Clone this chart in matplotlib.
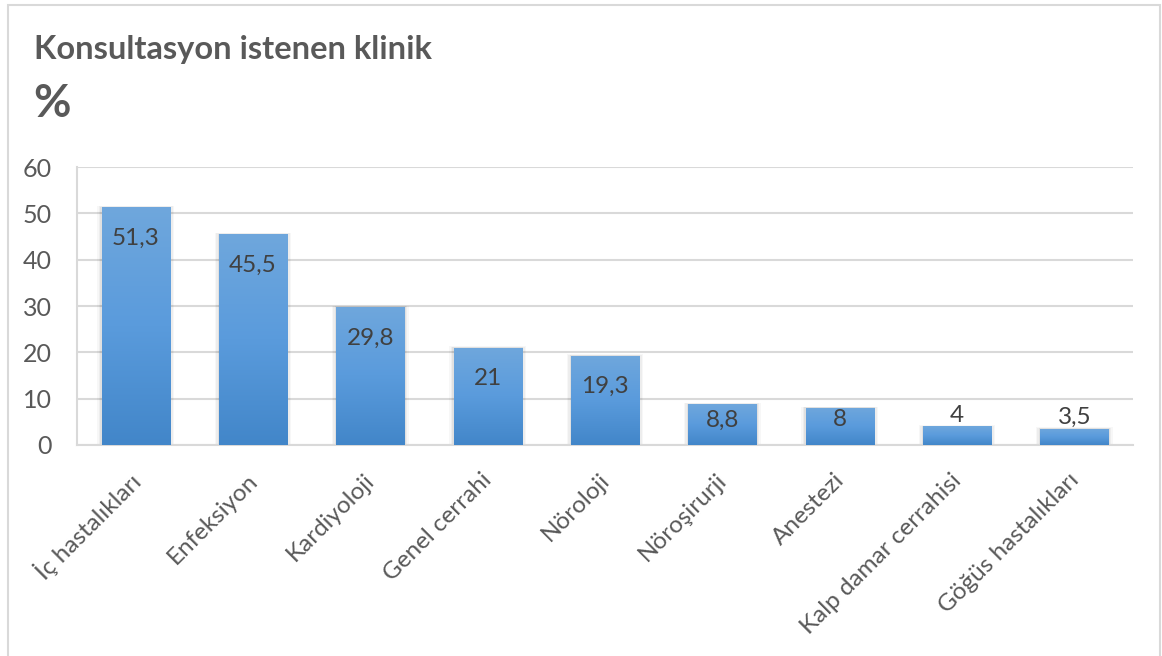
import numpy as np
import matplotlib
matplotlib.use("Agg")
import matplotlib.pyplot as plt
from matplotlib.patches import Rectangle
from matplotlib.colors import LinearSegmentedColormap
import matplotlib.transforms as mtransforms

plt.rcParams['font.family'] = ['Lato', 'DejaVu Sans']

# Data
categories = ["İç hastalıkları", "Enfeksiyon", "Kardiyoloji", "Genel cerrahi",
              "Nöroloji", "Nöroşirurji", "Anestezi", "Kalp damar cerrahisi",
              "Göğüs hastalıkları"]
values = [51.3, 45.5, 29.8, 21, 19.3, 8.8, 8, 4, 3.5]
value_labels = ["51,3", "45,5", "29,8", "21", "19,3", "8,8", "8", "4", "3,5"]
yticks = [0, 10, 20, 30, 40, 50, 60]

W, H = 1162, 656
fig = plt.figure(figsize=(W / 100, H / 100), dpi=100)
fig.patch.set_facecolor("white")

# chart frame
frame = Rectangle((8 / W, -0.1), (1160 - 8) / W, 1.1 - 5 / H, transform=fig.transFigure,
                  fill=False, edgecolor="#d9d9d9", linewidth=1.5)
fig.add_artist(frame)

fig.text(34 / W, 1 - 50 / H, "Konsultasyon istenen klinik", fontsize=23.5,
         fontweight="bold", color="#595959", va="center", ha="left")
fig.text(33 / W, 1 - 104 / H, "%", fontsize=33, fontweight="bold",
         color="#595959", va="center", ha="left")

ax = fig.add_axes([77 / W, 1 - 445 / H, (1133 - 77) / W, (445 - 167) / H])
ax.set_xlim(-0.5, len(categories) - 0.5)
ax.set_ylim(0, 60)
ax.set_yticks(yticks)
ax.set_yticklabels([str(t) for t in yticks], fontsize=18, color="#595959")
ax.tick_params(axis="y", length=0, pad=18)
ax.tick_params(axis="x", length=0)
ax.set_xticks([])
ax.grid(axis="y", color="#d9d9d9", linewidth=1.5, zorder=0)
ax.set_axisbelow(True)
for s in ["top", "right"]:
    ax.spines[s].set_visible(False)
ax.spines["left"].set_color("#d9d9d9")
ax.spines["left"].set_linewidth(1.5)
ax.spines["bottom"].set_color("#d9d9d9")
ax.spines["bottom"].set_linewidth(1.5)

cmap = LinearSegmentedColormap.from_list("barblue", ["#4286c9", "#5a9bdc", "#6fa7dd"])
grad = np.linspace(0, 1, 256).reshape(-1, 1)
bar_w = 0.58
x = np.arange(len(categories))
bars = ax.bar(x, values, width=bar_w, color="none", edgecolor="none", zorder=3)
for b in bars:
    x0, y0 = b.get_x(), b.get_y()
    w, h = b.get_width(), b.get_height()
    # soft shadow
    for k, a in enumerate([0.05, 0.04, 0.03]):
        d = 0.012 * (k + 1)
        ax.add_patch(Rectangle((x0 - d, y0), w + 2 * d, h + d * 8, facecolor="black",
                               alpha=a, edgecolor="none", zorder=2))
    im = ax.imshow(grad, extent=[x0, x0 + w, y0, y0 + h], origin="lower",
                   cmap=cmap, aspect="auto", zorder=3)
    im.set_clip_path(b)

ax.set_xlim(-0.5, len(categories) - 0.5)
ax.set_ylim(0, 60)

for xi, v, lab in zip(x, values, value_labels):
    if v >= 15:
        yl = v - 6.7
    elif v >= 6:
        yl = max(v - 6.7, 5.4)
    else:
        yl = v + 2.4
    ax.text(xi, yl, lab, ha="center", va="center", fontsize=17.5,
            color="#404040", zorder=5)

# rotated category labels
off = mtransforms.offset_copy(ax.transData, fig=fig, x=1, y=-32, units="dots")
for xi, c in zip(x, categories):
    ax.text(xi, 0, c, rotation=45, rotation_mode="anchor", ha="right", va="center",
            fontsize=17.5, color="#595959", transform=off, clip_on=False)

fig.savefig("out.png", dpi=100, facecolor="white")
